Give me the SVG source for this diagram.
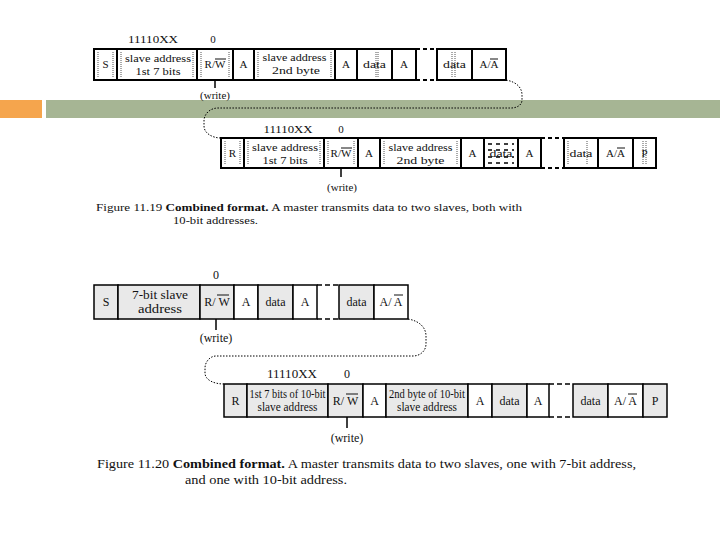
<svg xmlns="http://www.w3.org/2000/svg" width="720" height="540" viewBox="0 0 720 540">
<style>
.c1{fill:#fff;stroke:#000;stroke-width:2}
.c2{fill:#fff;stroke:#000;stroke-width:1.5}
.sh{fill:#e9e9e9}
.gap1{fill:none;stroke:#000;stroke-width:2;stroke-dasharray:4 3}
.gap2{fill:none;stroke:#000;stroke-width:1.5;stroke-dasharray:5 3}
.hat{fill:none;stroke:#000;stroke-width:1.5;stroke-dasharray:4 4}
.dot{stroke:#555;stroke-width:1;stroke-dasharray:1 1}
.t{font-family:"Liberation Serif",serif;font-size:11px;text-anchor:middle;fill:#111}
.t2{font-family:"Liberation Serif",serif;font-size:12px;text-anchor:middle;fill:#111}
.cap{font-family:"Liberation Serif",serif;fill:#111}
.ov{stroke:#111;stroke-width:1}
.conn{fill:none;stroke:#000;stroke-width:1;stroke-dasharray:1.5 1.5}
.tick{stroke:#000;stroke-width:1.5}
</style>
<rect width="720" height="540" fill="#fff"/>
<g id="header">
<rect x="0" y="100" width="42" height="18" fill="#F5A54D"/>
<rect x="46" y="100" width="674" height="18" fill="#A6B594"/>
</g>
<g id="connectors">
<path class="conn" d="M506,80 C517,82 522,88 522,95 L522,100 C522,105 517,108 511,108 L218,108 C210,108 204,114 204,121 L204,126 C204,133 212,138 221,138"/>
<line class="tick" x1="215" y1="80" x2="215" y2="88"/>
<line class="tick" x1="341" y1="168" x2="341" y2="177"/>
<path class="conn" d="M408,319 C420,321 426,328 426,336 L426,344 C426,351 420,356 413,356 L216,356 C210,356 205,362 205,368 L205,373 C205,380 214,384 224,384"/>
<line class="tick" x1="216" y1="319" x2="216" y2="330"/>
<line class="tick" x1="347" y1="417" x2="347" y2="428"/>
</g>
<g id="fig1-labels">
<text class="t" x="153" y="43" textLength="50" lengthAdjust="spacingAndGlyphs">11110XX</text>
<text class="t" x="213" y="43">0</text>
<text class="t" x="215" y="99">(write)</text>
<text class="t" x="288" y="133" textLength="49" lengthAdjust="spacingAndGlyphs">11110XX</text>
<text class="t" x="341" y="133">0</text>
<text class="t" x="342" y="191">(write)</text>
</g>
<g id="fig1-row1">
<g id="r1-S"><rect class="c1" x="94" y="49" width="23" height="31"/><line class="dot" x1="98" y1="52" x2="98" y2="77"/><line class="dot" x1="113" y1="52" x2="113" y2="77"/><text class="t" x="105.5" y="68">S</text></g>
<g id="r1-addr1"><rect class="c1" x="117" y="49" width="80" height="31"/><line class="dot" x1="121" y1="52" x2="121" y2="77"/><line class="dot" x1="193" y1="52" x2="193" y2="77"/><text class="t" x="158" y="62" textLength="66" lengthAdjust="spacingAndGlyphs">slave address</text><text class="t" x="158" y="75" textLength="45" lengthAdjust="spacingAndGlyphs">1st 7 bits</text></g>
<g id="r1-rw"><rect class="c1" x="197" y="49" width="36" height="31"/><line class="dot" x1="201" y1="52" x2="201" y2="77"/><line class="dot" x1="229" y1="52" x2="229" y2="77"/><text class="t" x="215" y="68">R/W</text><line class="ov" x1="215" y1="59" x2="226" y2="59"/></g>
<g id="r1-A1"><rect class="c1" x="233" y="49" width="21" height="31"/><text class="t" x="243.5" y="68">A</text></g>
<g id="r1-addr2"><rect class="c1" x="254" y="49" width="81" height="31"/><line class="dot" x1="258" y1="52" x2="258" y2="77"/><line class="dot" x1="331" y1="52" x2="331" y2="77"/><text class="t" x="294.5" y="61" textLength="64" lengthAdjust="spacingAndGlyphs">slave address</text><text class="t" x="296" y="74" textLength="48" lengthAdjust="spacingAndGlyphs">2nd byte</text></g>
<g id="r1-A2"><rect class="c1" x="335" y="49" width="22" height="31"/><text class="t" x="346" y="68">A</text></g>
<g id="r1-data1"><rect class="c1" x="357" y="49" width="35" height="31"/><line class="dot" x1="376" y1="52" x2="376" y2="77"/><line class="dot" x1="378" y1="52" x2="378" y2="77"/><text class="t" x="374.5" y="68" textLength="23" lengthAdjust="spacingAndGlyphs">data</text></g>
<g id="r1-A3"><rect class="c1" x="392" y="49" width="24" height="31"/><text class="t" x="404" y="68">A</text></g>
<g id="r1-gap"><line class="gap1" x1="416" y1="49" x2="437" y2="49"/><line class="gap1" x1="416" y1="80" x2="437" y2="80"/></g>
<g id="r1-data2"><rect class="c1" x="437" y="49" width="35" height="31"/><line class="dot" x1="452" y1="52" x2="452" y2="77"/><line class="dot" x1="455" y1="52" x2="455" y2="77"/><text class="t" x="454.5" y="68" textLength="23" lengthAdjust="spacingAndGlyphs">data</text></g>
<g id="r1-AA"><rect class="c1" x="472" y="49" width="34" height="31"/><text class="t" x="489" y="68">A/A</text><line class="ov" x1="490" y1="59" x2="498" y2="59"/></g>
</g>
<g id="fig1-row2">
<g id="r2-R"><rect class="c1" x="221" y="138" width="23" height="30"/><line class="dot" x1="225" y1="141" x2="225" y2="165"/><line class="dot" x1="240" y1="141" x2="240" y2="165"/><text class="t" x="232.5" y="157">R</text></g>
<g id="r2-addr1"><rect class="c1" x="244" y="138" width="80" height="30"/><line class="dot" x1="248" y1="141" x2="248" y2="165"/><line class="dot" x1="320" y1="141" x2="320" y2="165"/><text class="t" x="285" y="151" textLength="66" lengthAdjust="spacingAndGlyphs">slave address</text><text class="t" x="285" y="164" textLength="45" lengthAdjust="spacingAndGlyphs">1st 7 bits</text></g>
<g id="r2-rw"><rect class="c1" x="324" y="138" width="34" height="30"/><line class="dot" x1="328" y1="141" x2="328" y2="165"/><line class="dot" x1="354" y1="141" x2="354" y2="165"/><text class="t" x="341" y="157">R/W</text><line class="ov" x1="341" y1="148" x2="352" y2="148"/></g>
<g id="r2-A1"><rect class="c1" x="358" y="138" width="22" height="30"/><text class="t" x="369" y="157">A</text></g>
<g id="r2-addr2"><rect class="c1" x="380" y="138" width="81" height="30"/><line class="dot" x1="384" y1="141" x2="384" y2="165"/><line class="dot" x1="457" y1="141" x2="457" y2="165"/><text class="t" x="420.5" y="151" textLength="64" lengthAdjust="spacingAndGlyphs">slave address</text><text class="t" x="420.5" y="164" textLength="48" lengthAdjust="spacingAndGlyphs">2nd byte</text></g>
<g id="r2-A2"><rect class="c1" x="461" y="138" width="23" height="30"/><text class="t" x="472.5" y="157">A</text></g>
<g id="r2-data1"><rect class="c1" x="484" y="138" width="34" height="30"/><line class="hat" x1="488" y1="144" x2="514" y2="144"/><line class="hat" x1="488" y1="150" x2="514" y2="150"/><line class="hat" x1="488" y1="157" x2="514" y2="157"/><line class="hat" x1="488" y1="163" x2="514" y2="163"/><text class="t" x="501" y="157" textLength="23" lengthAdjust="spacingAndGlyphs">data</text></g>
<g id="r2-A3"><rect class="c1" x="518" y="138" width="23" height="30"/><text class="t" x="529.5" y="157">A</text></g>
<g id="r2-gap"><line class="gap1" x1="541" y1="138" x2="564" y2="138"/><line class="gap1" x1="541" y1="168" x2="564" y2="168"/></g>
<g id="r2-data2"><rect class="c1" x="564" y="138" width="34" height="30"/><line class="dot" x1="568" y1="141" x2="568" y2="165"/><line class="dot" x1="587" y1="141" x2="587" y2="165"/><text class="t" x="581" y="157" textLength="23" lengthAdjust="spacingAndGlyphs">data</text></g>
<g id="r2-AA"><rect class="c1" x="598" y="138" width="35" height="30"/><text class="t" x="615.5" y="157">A/A</text><line class="ov" x1="617" y1="148" x2="625" y2="148"/></g>
<g id="r2-P"><rect class="c1" x="633" y="138" width="23" height="30"/><line class="dot" x1="643" y1="141" x2="643" y2="165"/><line class="dot" x1="646" y1="141" x2="646" y2="165"/><text class="t" x="644.5" y="157">P</text></g>
</g>
<g id="caption1">
<text class="cap" x="96" y="211" font-size="11" textLength="426" lengthAdjust="spacingAndGlyphs">Figure 11.19 <tspan font-weight="bold">Combined format.</tspan> A master transmits data to two slaves, both with</text>
<text class="cap" x="173" y="224" font-size="11" textLength="85" lengthAdjust="spacingAndGlyphs">10-bit addresses.</text>
</g>
<g id="fig2-labels">
<text class="t2" x="216" y="279">0</text>
<text class="t2" x="216" y="342">(write)</text>
<text class="t2" x="292" y="378" textLength="50" lengthAdjust="spacingAndGlyphs">11110XX</text>
<text class="t2" x="347" y="378">0</text>
<text class="t2" x="347" y="442">(write)</text>
</g>
<g id="fig2-row1">
<g id="b1-S"><rect class="c2 sh" x="94" y="285" width="24" height="34"/><text class="t2" x="106" y="306">S</text></g>
<g id="b1-addr"><rect class="c2 sh" x="118" y="285" width="82" height="34"/><text class="t2" x="160" y="299" textLength="56" lengthAdjust="spacingAndGlyphs">7-bit slave</text><text class="t2" x="160" y="313" textLength="44" lengthAdjust="spacingAndGlyphs">address</text></g>
<g id="b1-rw"><rect class="c2 sh" x="200" y="285" width="34" height="34"/><text class="t2" x="217" y="306">R/ W</text><line class="ov" x1="217" y1="295" x2="229" y2="295"/></g>
<g id="b1-A1"><rect class="c2" x="234" y="285" width="24" height="34"/><text class="t2" x="246" y="306">A</text></g>
<g id="b1-data1"><rect class="c2 sh" x="258" y="285" width="35" height="34"/><text class="t2" x="275.5" y="306">data</text></g>
<g id="b1-A2"><rect class="c2" x="293" y="285" width="24" height="34"/><text class="t2" x="305" y="306">A</text></g>
<g id="b1-gap"><line class="gap2" x1="317" y1="285" x2="339" y2="285"/><line class="gap2" x1="317" y1="319" x2="339" y2="319"/></g>
<g id="b1-data2"><rect class="c2 sh" x="339" y="285" width="35" height="34"/><text class="t2" x="356.5" y="306">data</text></g>
<g id="b1-AA"><rect class="c2" fill="#f3f3f3" x="374" y="285" width="34" height="34"/><text class="t2" x="391" y="306">A/ A</text><line class="ov" x1="394" y1="295" x2="403" y2="295"/></g>
</g>
<g id="fig2-row2">
<g id="b2-R"><rect class="c2 sh" x="224" y="384" width="23" height="33"/><text class="t2" x="235.5" y="405">R</text></g>
<g id="b2-addr1"><rect class="c2 sh" x="247" y="384" width="81" height="33"/><text class="t2" x="287.5" y="398" font-size="10.5" textLength="76" lengthAdjust="spacingAndGlyphs">1st 7 bits of 10-bit</text><text class="t2" x="287.5" y="411" font-size="10.5" textLength="60" lengthAdjust="spacingAndGlyphs">slave address</text></g>
<g id="b2-rw"><rect class="c2 sh" x="328" y="384" width="35" height="33"/><text class="t2" x="345.5" y="405">R/ W</text><line class="ov" x1="346" y1="394" x2="358" y2="394"/></g>
<g id="b2-A1"><rect class="c2" x="363" y="384" width="23" height="33"/><text class="t2" x="374.5" y="405">A</text></g>
<g id="b2-addr2"><rect class="c2 sh" x="386" y="384" width="82" height="33"/><text class="t2" x="427" y="398" font-size="10.5" textLength="76" lengthAdjust="spacingAndGlyphs">2nd byte of 10-bit</text><text class="t2" x="427" y="411" font-size="10.5" textLength="60" lengthAdjust="spacingAndGlyphs">slave address</text></g>
<g id="b2-A2"><rect class="c2" x="468" y="384" width="24" height="33"/><text class="t2" x="480" y="405">A</text></g>
<g id="b2-data1"><rect class="c2 sh" x="492" y="384" width="35" height="33"/><text class="t2" x="509.5" y="405">data</text></g>
<g id="b2-A3"><rect class="c2" x="527" y="384" width="22" height="33"/><text class="t2" x="538" y="405">A</text></g>
<g id="b2-gap"><line class="gap2" x1="549" y1="384" x2="573" y2="384"/><line class="gap2" x1="549" y1="417" x2="573" y2="417"/></g>
<g id="b2-data2"><rect class="c2 sh" x="573" y="384" width="35" height="33"/><text class="t2" x="590.5" y="405">data</text></g>
<g id="b2-AA"><rect class="c2" x="608" y="384" width="35" height="33"/><text class="t2" x="625.5" y="405">A/ A</text><line class="ov" x1="628" y1="394" x2="637" y2="394"/></g>
<g id="b2-P"><rect class="c2 sh" x="643" y="384" width="24" height="33"/><text class="t2" x="655" y="405">P</text></g>
</g>
<g id="caption2">
<text class="cap" x="97" y="468" font-size="12.5" textLength="539" lengthAdjust="spacingAndGlyphs">Figure 11.20 <tspan font-weight="bold">Combined format.</tspan> A master transmits data to two slaves, one with 7-bit address,</text>
<text class="cap" x="185" y="484" font-size="12.5" textLength="162" lengthAdjust="spacingAndGlyphs">and one with 10-bit address.</text>
</g>
</svg>
